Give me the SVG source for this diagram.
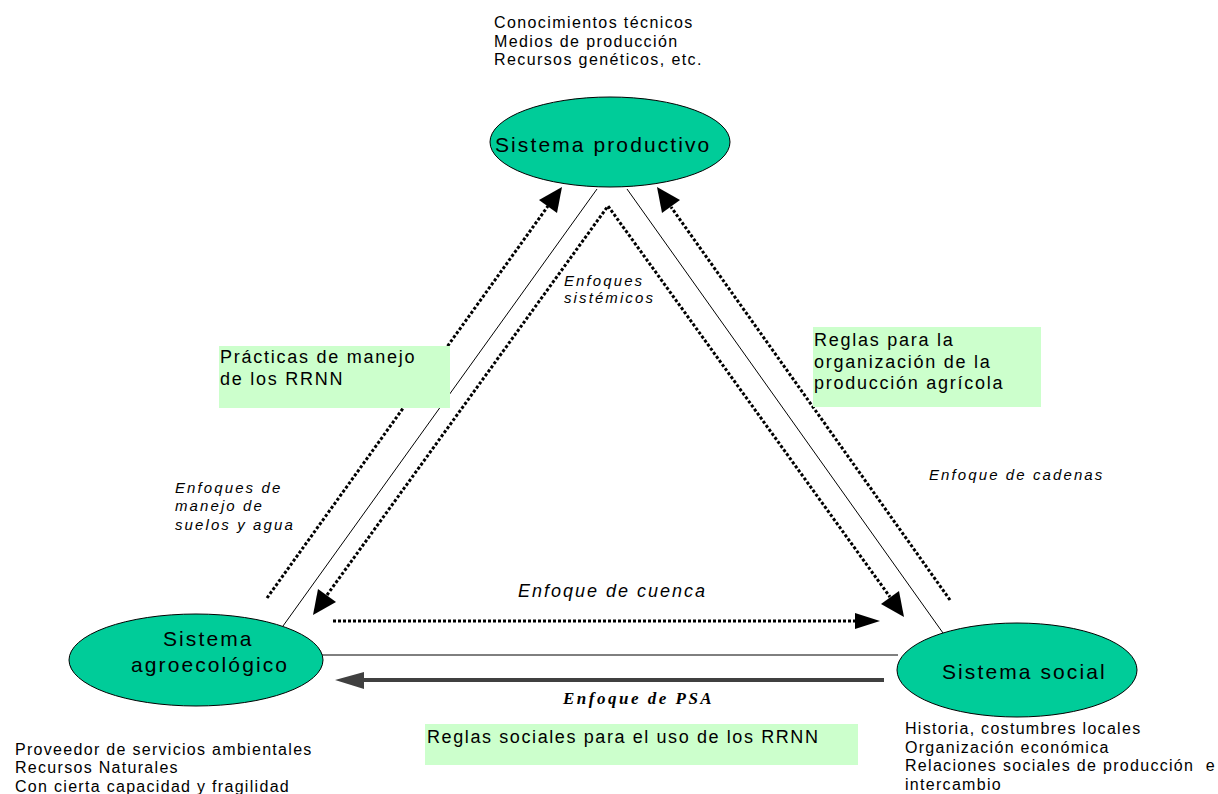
<svg xmlns="http://www.w3.org/2000/svg" width="1218" height="794" viewBox="0 0 1218 794">
<style>
text{font-family:"Liberation Sans",Arial,sans-serif;fill:#000}
.body{font-size:16px;letter-spacing:1.3px}
.node{font-size:21px;letter-spacing:2.1px}
.lab{font-size:18px;letter-spacing:1.75px}
.it{font-size:15px;font-style:italic;letter-spacing:2.1px}
.ell{fill:#00cc99;stroke:#000;stroke-width:1}
.box{fill:#ccffcc}
.solid{stroke:#000;stroke-width:1;fill:none}
.dot{stroke:#000;stroke-width:3;stroke-dasharray:3 2;fill:none}
.head{fill:#000}
</style>
<rect width="1218" height="794" fill="#fff"/>
<g id="connectors">
<line class="solid" x1="597" y1="189" x2="283" y2="626"/>
<line class="solid" x1="627" y1="189" x2="943" y2="633"/>
<line class="solid" x1="322" y1="655" x2="898" y2="655"/>
<line class="dot" x1="267" y1="598" x2="548" y2="206"/>
<polygon class="head" points="562,187 539,200 557,213"/>
<polyline class="dot" points="327,595 608,206 890,597"/>
<polygon class="head" points="313,615 336,602 318,589"/>
<polygon class="head" points="904,617 881,604 899,591"/>
<line class="dot" x1="950" y1="600" x2="671" y2="207"/>
<polygon class="head" points="657,187 680,200 662,213"/>
<line class="dot" x1="333" y1="621" x2="856" y2="621"/>
<polygon class="head" points="880,621 855,613 855,629"/>
<line x1="884" y1="680" x2="362" y2="680" stroke="#404040" stroke-width="4"/>
<polygon points="335,680 364,672 364,689" fill="#404040"/>
</g>
<g id="label-practicas">
<rect class="box" x="219" y="346" width="231" height="62"/>
<text class="lab" x="220" y="363">Prácticas de manejo</text>
<text class="lab" x="220" y="385">de los RRNN</text>
</g>
<g id="label-reglas-org">
<rect class="box" x="813" y="327" width="228" height="80"/>
<text class="lab" x="814" y="346">Reglas para la</text>
<text class="lab" x="814" y="368">organización de la</text>
<text class="lab" x="814" y="389">producción agrícola</text>
</g>
<g id="label-reglas-sociales">
<rect class="box" x="425" y="724" width="433" height="41"/>
<text class="lab" x="427" y="743" style="letter-spacing:1.6px">Reglas sociales para el uso de los RRNN</text>
</g>
<g id="label-enfoques">
<text class="it" x="564" y="286">Enfoques</text>
<text class="it" x="564" y="303">sistémicos</text>
<text class="it" x="175" y="493">Enfoques de</text>
<text class="it" x="175" y="511">manejo de</text>
<text class="it" x="175" y="530">suelos y agua</text>
<text class="it" x="929" y="480">Enfoque de cadenas</text>
<text x="518" y="597" style="font-size:18px;font-style:italic;letter-spacing:2px">Enfoque de cuenca</text>
<text x="563" y="704" style="font-family:'Liberation Serif','Times New Roman',serif;font-size:17px;font-weight:bold;font-style:italic;letter-spacing:2.5px">Enfoque de PSA</text>
</g>
<g id="node-productivo">
<ellipse class="ell" cx="610" cy="142" rx="120" ry="45"/>
<text class="node" x="495" y="152">Sistema productivo</text>
<text class="body" x="494" y="28" style="letter-spacing:1.4px">Conocimientos técnicos</text>
<text class="body" x="494" y="47" style="letter-spacing:1.4px">Medios de producción</text>
<text class="body" x="494" y="65" style="letter-spacing:1.4px">Recursos genéticos, etc.</text>
</g>
<g id="node-agroecologico">
<ellipse class="ell" cx="196" cy="660" rx="127" ry="46"/>
<text class="node" x="163" y="646">Sistema</text>
<text class="node" x="131" y="672">agroecológico</text>
<text class="body" x="15" y="755">Proveedor de servicios ambientales</text>
<text class="body" x="15" y="773">Recursos Naturales</text>
<text class="body" x="15" y="792">Con cierta capacidad y fragilidad</text>
</g>
<g id="node-social">
<ellipse class="ell" cx="1017" cy="670" rx="120" ry="47"/>
<text class="node" x="942" y="679">Sistema social</text>
<text class="body" x="905" y="734">Historia, costumbres locales</text>
<text class="body" x="905" y="753">Organización económica</text>
<text class="body" x="905" y="771" xml:space="preserve">Relaciones sociales de producción  e</text>
<text class="body" x="905" y="790">intercambio</text>
</g>
</svg>
